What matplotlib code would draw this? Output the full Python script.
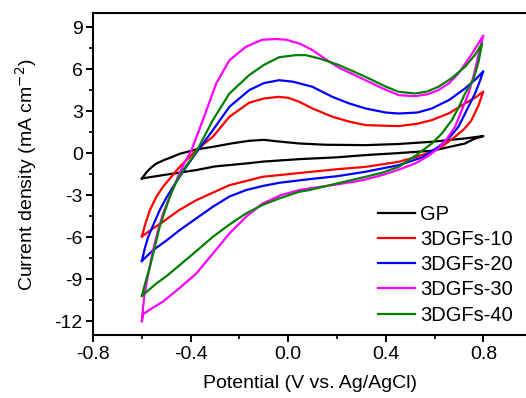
import matplotlib
matplotlib.use("Agg")
import matplotlib.pyplot as plt
from matplotlib.ticker import MultipleLocator

plt.rcParams["font.family"] = ["Liberation Sans", "DejaVu Sans"]

# CV loops: anodic sweep -0.6 -> 0.8 V, then cathodic sweep back to -0.6 V
gp_v = [-0.60, -0.58, -0.56, -0.54, -0.51, -0.48, -0.445, -0.38, -0.309, -0.23, -0.16,
        -0.10, -0.05, 0.045, 0.15, 0.317, 0.45, 0.589, 0.725, 0.80,
        0.76, 0.725, 0.65, 0.589, 0.45, 0.317, 0.20, 0.045, -0.10, -0.173, -0.30,
        -0.377, -0.513, -0.60]
gp_i = [-1.81, -1.35, -1.0, -0.74, -0.5, -0.3, -0.05, 0.25, 0.45, 0.7, 0.88,
        0.95, 0.85, 0.69, 0.6, 0.57, 0.65, 0.81, 1.05, 1.22,
        1.0, 0.69, 0.4, 0.17, 0.0, -0.14, -0.3, -0.43, -0.6, -0.74, -0.95,
        -1.21, -1.57, -1.81]

g10_v = [-0.60, -0.585, -0.567, -0.54, -0.513, -0.48, -0.445, -0.39, -0.35, -0.309,
         -0.241, -0.16, -0.10, -0.04, 0.0, 0.045, 0.099, 0.181, 0.25, 0.317, 0.453,
         0.53, 0.589, 0.66, 0.725, 0.77, 0.80,
         0.78, 0.75, 0.72, 0.684, 0.64, 0.589, 0.52, 0.453, 0.317, 0.20, 0.086,
         -0.105, -0.241, -0.377, -0.45, -0.513, -0.56, -0.60]
g10_i = [-5.95, -5.0, -4.07, -3.1, -2.4, -1.7, -0.98, -0.02, 0.6, 1.17,
         2.6, 3.6, 3.9, 4.02, 3.95, 3.67, 3.19, 2.6, 2.25, 2.0, 1.93,
         2.1, 2.36, 2.85, 3.55, 4.0, 4.4,
         3.4, 2.3, 1.7, 1.17, 0.6, 0.1, -0.3, -0.62, -0.98, -1.15, -1.35,
         -1.69, -2.29, -3.36, -4.1, -4.9, -5.45, -5.95]

g20_v = [-0.60, -0.588, -0.574, -0.55, -0.527, -0.50, -0.472, -0.418, -0.37, -0.309,
         -0.241, -0.16, -0.10, -0.037, 0.02, 0.099, 0.181, 0.25, 0.317, 0.40, 0.453,
         0.53, 0.589, 0.66, 0.725, 0.77, 0.80,
         0.785, 0.766, 0.73, 0.698, 0.66, 0.616, 0.55, 0.453, 0.317, 0.20, 0.086,
         -0.037, -0.105, -0.173, -0.241, -0.309, -0.38, -0.445, -0.50, -0.554, -0.60]
g20_i = [-7.7, -6.8, -5.98, -5.0, -4.07, -3.2, -2.4, -0.98, 0.2, 1.64,
         3.31, 4.5, 5.0, 5.21, 5.1, 4.74, 4.02, 3.55, 3.19, 2.9, 2.83,
         2.9, 3.19, 3.8, 4.62, 5.3, 5.85,
         5.1, 4.26, 3.0, 1.88, 1.1, 0.45, -0.3, -0.86, -1.33, -1.65, -1.86,
         -2.12, -2.35, -2.64, -3.1, -3.83, -4.7, -5.5, -6.25, -6.93, -7.7]

g30_v = [-0.60, -0.595, -0.59, -0.581, -0.568, -0.554, -0.535, -0.513, -0.485, -0.458,
         -0.43, -0.397, -0.35, -0.295, -0.241, -0.173, -0.106, -0.05, -0.008, 0.05,
         0.099, 0.15, 0.208, 0.317, 0.39, 0.453, 0.52, 0.57, 0.616, 0.66, 0.698,
         0.75, 0.80,
         0.78, 0.76, 0.739, 0.71, 0.684, 0.65, 0.616, 0.57, 0.52, 0.45, 0.385, 0.30,
         0.181, 0.086, 0.045, -0.03, -0.105, -0.17, -0.241, -0.31, -0.377, -0.45,
         -0.513, -0.56, -0.595, -0.60]
g30_i = [-12.0, -11.0, -10.2, -9.3, -8.1, -6.93, -5.6, -4.31, -3.1, -1.93,
         -0.85, 0.2, 2.36, 4.98, 6.64, 7.6, 8.1, 8.15, 8.1, 7.8,
         7.36, 6.75, 6.1, 5.21, 4.6, 4.14, 4.07, 4.2, 4.5, 5.0, 5.69,
         7.0, 8.4,
         7.0, 5.5, 4.26, 3.0, 1.88, 1.0, 0.33, -0.25, -0.74, -1.2, -1.57, -1.95,
         -2.29, -2.52, -2.64, -3.0, -3.6, -4.5, -5.74, -7.2, -8.6, -9.7,
         -10.6, -11.1, -11.5, -12.0]

g40_v = [-0.60, -0.585, -0.567, -0.547, -0.527, -0.505, -0.486, -0.46, -0.431, -0.38,
         -0.309, -0.241, -0.16, -0.10, -0.037, 0.03, 0.072, 0.13, 0.208, 0.317, 0.40,
         0.453, 0.52, 0.57, 0.616, 0.67, 0.725, 0.765, 0.795,
         0.78, 0.76, 0.725, 0.70, 0.671, 0.63, 0.589, 0.52, 0.453, 0.385, 0.317,
         0.18, 0.086, 0.045, -0.037, -0.105, -0.173, -0.241, -0.309, -0.377, -0.445,
         -0.50, -0.54, -0.60]
g40_i = [-10.2, -9.2, -8.12, -6.7, -5.26, -4.1, -3.12, -2.1, -1.21, 0.0,
         2.36, 4.26, 5.57, 6.3, 6.85, 7.0, 7.0, 6.75, 6.29, 5.45, 4.75,
         4.38, 4.26, 4.4, 4.74, 5.35, 6.17, 7.0, 7.83,
         6.5, 5.3, 4.26, 3.3, 2.36, 1.4, 0.69, -0.2, -0.98, -1.4, -1.69,
         -2.25, -2.64, -2.76, -3.24, -3.7, -4.31, -5.1, -5.98, -7.0, -8.0,
         -8.8, -9.3, -10.2]

labels = ["GP", "3DGFs-10", "3DGFs-20", "3DGFs-30", "3DGFs-40"]
colors = ["black", "#ff0000", "#0000ff", "#ff00ff", "#008000"]
series = [(gp_v, gp_i), (g10_v, g10_i), (g20_v, g20_i), (g30_v, g30_i), (g40_v, g40_i)]
xticks = [-0.8, -0.4, 0.0, 0.4, 0.8]
yticks = [-12, -9, -6, -3, 0, 3, 6, 9]

fig = plt.figure(figsize=(5.26, 3.98), dpi=100)
ax = fig.add_axes([0.177, 0.158, 0.823, 0.809])
for (v, i), lab, c in zip(series, labels, colors):
    ax.plot(v, i, color=c, lw=1.6, label=lab)

ax.set_xlim(-0.8, 0.975)
ax.set_ylim(-13, 10)
ax.set_xticks(xticks)
ax.set_xticklabels([f"{t:.1f}" for t in xticks])
ax.set_yticks(yticks)
ax.set_yticklabels([str(t) for t in yticks])
ax.xaxis.set_minor_locator(MultipleLocator(0.2))
ax.yaxis.set_minor_locator(MultipleLocator(1.5))
ax.tick_params(which="major", direction="out", length=5, width=1.4, labelsize=14, pad=2.5)
ax.tick_params(which="minor", direction="out", length=3, width=1.2)
ax.spines["right"].set_visible(False)
for s in ["left", "bottom", "top"]:
    ax.spines[s].set_linewidth(1.5)

ax.set_xlabel("Potential (V vs. Ag/AgCl)", fontsize=14, labelpad=9)
ax.set_ylabel("Current density (mA cm$^{-2}$)", fontsize=14, labelpad=11)

ax.legend(loc="upper left", bbox_to_anchor=(0.658, 0.405), frameon=False, fontsize=14.5,
          handlelength=1.85, handletextpad=0.25, labelspacing=0.31,
          borderaxespad=0, borderpad=0)

fig.savefig("out.png", dpi=100)
